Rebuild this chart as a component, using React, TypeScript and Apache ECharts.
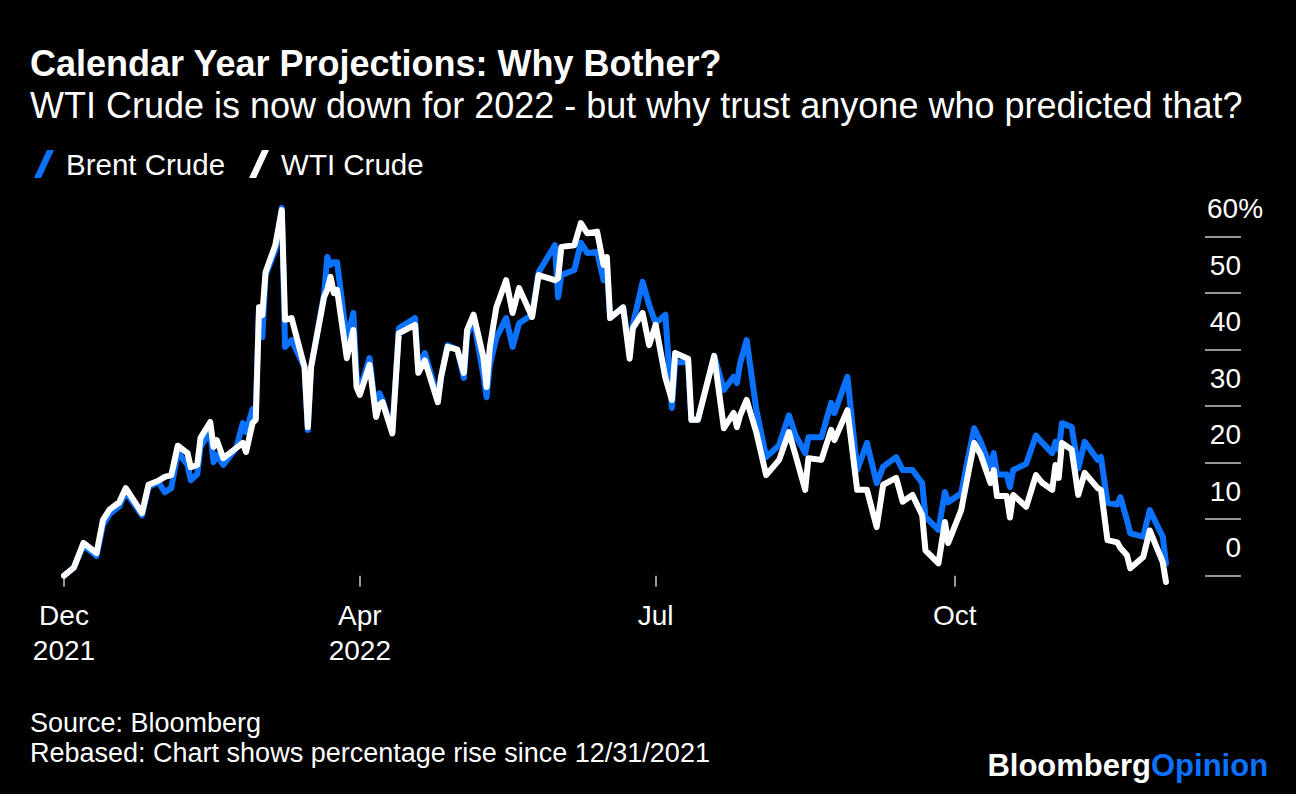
import React, { useEffect, useRef } from 'react';
import * as echarts from 'echarts';

// Days since 12/31/2021 (rebase date)
const days = [
  0, 3, 6, 10, 12, 14, 17, 19, 24, 26, 29, 31, 33, 35, 38, 39, 41, 42, 45, 46,
  47, 49, 53, 55, 56, 58, 59, 60, 61, 62, 65, 67, 68, 70, 74, 75, 76, 80, 81, 82,
  83, 84, 87, 89, 90, 91, 94, 96, 97, 98, 101, 103, 108, 109, 111, 115, 116, 118, 121, 123,
  124, 126, 129, 130, 131, 133, 136, 138, 140, 144, 146, 151, 152, 153, 157, 159, 161, 164, 166, 167,
  168, 172, 174, 175, 178, 180, 182, 185, 187, 188, 192, 193, 195, 200, 203, 206, 207, 208, 210, 213,
  216, 220, 223, 225, 228, 229, 233, 236, 237, 241, 244, 247, 250, 252, 256, 258, 261, 264, 265, 269,
  271, 272, 276, 278, 280, 282, 285, 286, 287, 290, 291, 292, 296, 299, 301, 304, 305, 306, 307, 310,
  312, 314, 318, 319, 321, 324, 325, 327, 328, 332, 334, 338, 339,
];

// Brent Crude, % rise since 12/31/2021
const brent = [
  0, 1.4, 5.4, 3.5, 9.0, 10.9, 12.3, 14.8, 10.7, 15.7, 16.6, 14.8, 15.5, 21.9, 19.6, 16.9, 18.0, 22.8, 25.4, 20.1,
  21.4, 19.6, 22.6, 27.0, 25.4, 29.5, 29.3, 47.5, 42.2, 53.2, 57.6, 65.1, 40.5, 41.7, 36.9, 25.8, 36.9, 49.7, 56.4, 55.0,
  55.5, 55.5, 41.7, 46.5, 35.5, 32.9, 38.5, 28.3, 32.3, 31.1, 25.4, 43.8, 45.6, 36.4, 39.4, 31.5, 35.2, 40.8, 40.0, 35.0,
  42.6, 45.3, 35.5, 31.6, 37.3, 42.1, 45.6, 40.5, 44.7, 46.2, 53.7, 58.5, 49.3, 53.2, 54.1, 58.9, 57.1, 57.3, 52.3, 54.1,
  45.6, 47.5, 39.9, 44.4, 52.0, 47.9, 44.7, 46.2, 29.7, 37.8, 37.8, 27.6, 27.6, 38.9, 32.9, 35.2, 34.1, 37.6, 41.7, 29.3,
  21.0, 23.1, 28.4, 24.9, 21.7, 24.5, 24.5, 30.6, 28.8, 35.2, 18.7, 23.5, 16.4, 19.3, 21.0, 18.7, 18.7, 16.4, 10.4, 8.1,
  14.8, 13.0, 14.6, 20.5, 26.1, 23.7, 19.3, 21.7, 17.9, 17.9, 15.7, 18.7, 19.8, 24.8, 23.5, 21.7, 23.7, 22.3, 27.0, 26.3,
  19.0, 23.7, 20.5, 21.0, 12.9, 12.6, 13.9, 9.8, 7.5, 6.9, 11.6, 6.9, 2.2,
];

// WTI Crude, % rise since 12/31/2021
const wti = [
  0, 1.4, 5.8, 4.0, 9.9, 11.7, 13.0, 15.5, 11.1, 16.1, 16.8, 17.5, 17.8, 23.0, 21.7, 19.2, 19.6, 24.4, 27.2, 22.8,
  24.0, 20.8, 22.6, 23.5, 21.9, 27.0, 27.6, 47.5, 46.1, 53.7, 58.5, 64.7, 45.3, 45.6, 36.9, 26.3, 36.9, 49.3, 50.6, 52.9,
  50.0, 50.6, 38.5, 43.5, 33.4, 32.0, 37.3, 28.1, 30.2, 30.7, 25.2, 42.9, 44.4, 35.9, 38.1, 30.7, 35.2, 40.5, 40.0, 35.9,
  43.5, 46.2, 38.7, 33.4, 40.5, 47.5, 52.3, 46.5, 50.9, 45.8, 53.2, 52.3, 52.7, 58.2, 58.5, 62.4, 60.6, 60.9, 55.0, 56.4,
  45.6, 47.5, 38.4, 43.8, 46.5, 40.8, 44.4, 35.0, 31.1, 39.4, 38.4, 27.6, 27.6, 38.9, 26.1, 28.8, 26.3, 28.4, 31.1, 25.3,
  17.8, 20.5, 25.4, 21.4, 15.2, 20.8, 20.5, 25.8, 24.0, 29.3, 15.2, 15.2, 8.6, 16.1, 17.3, 13.1, 14.3, 10.7, 4.5, 2.2,
  9.5, 5.8, 11.6, 17.6, 23.5, 21.4, 16.4, 18.7, 14.1, 14.1, 10.3, 14.3, 12.2, 17.8, 16.4, 15.2, 19.6, 17.3, 23.5, 22.3,
  14.3, 18.2, 15.5, 15.2, 6.3, 5.9, 4.9, 3.6, 1.3, 3.3, 8.0, 2.4, -1.1,
];

const seriesNames = ['Brent Crude', 'WTI Crude'];
const xTickDays = [0, 91, 182, 274];
const xTickLabels = ['Dec\n2021', 'Apr\n2022', 'Jul', 'Oct'];

const BLUE = '#0a72ff';
const FONT = 'Liberation Sans';
const SLASH = 'path://M0,28 L7,28 L20,0 L13,0 Z';

export default function App() {
  const ref = useRef<HTMLDivElement>(null);

  useEffect(() => {
    document.body.style.margin = '0';
    document.body.style.background = '#000';
    const chart = echarts.init(ref.current as HTMLDivElement, null, { renderer: 'svg' });
    const toPairs = (vals: number[]) => days.map((d, i) => [d, vals[i]]);

    chart.setOption({
      animation: false,
      backgroundColor: '#000000',
      textStyle: { fontFamily: FONT },
      grid: { left: 64, right: 91, top: 236.7, bottom: 218.3, containLabel: false },
      legend: {
        left: 29,
        top: 144,
        itemWidth: 20,
        itemHeight: 28,
        itemGap: 24,
        textStyle: { color: '#ffffff', fontSize: 29.5, fontFamily: FONT, padding: [0, 0, 0, 7] },
        data: [
          { name: seriesNames[0], icon: SLASH },
          { name: seriesNames[1], icon: SLASH },
        ],
      },
      xAxis: {
        type: 'value',
        min: 0,
        max: 351,
        axisLine: { show: false, onZero: false },
        splitLine: { show: false },
        axisTick: {
          show: true,
          customValues: xTickDays,
          length: 11,
          lineStyle: { color: '#c8c8c8', width: 1.5 },
        },
        axisLabel: {
          customValues: xTickDays,
          color: '#ffffff',
          fontSize: 28,
          fontFamily: FONT,
          lineHeight: 35,
          margin: 22,
          formatter: (v: number) => {
            const i = xTickDays.indexOf(v);
            return i >= 0 ? xTickLabels[i] : '';
          },
        },
      },
      yAxis: {
        type: 'value',
        position: 'right',
        min: 0,
        max: 60,
        interval: 10,
        axisLine: { show: false, onZero: false },
        splitLine: { show: false },
        axisTick: {
          show: true,
          inside: false,
          length: 36,
          lineStyle: { color: '#c8c8c8', width: 1.5 },
        },
        axisLabel: {
          color: '#ffffff',
          align: 'left',
          verticalAlign: 'bottom',
          margin: 2,
          padding: [0, 0, 14, 0],
          formatter: (v: number) => (v === 60 ? `{m|${v}%}` : `{n|${v}}`),
          rich: {
            n: { width: 34, align: 'right', fontSize: 28, lineHeight: 28, color: '#ffffff', fontFamily: FONT },
            m: { align: 'left', fontSize: 28, lineHeight: 28, color: '#ffffff', fontFamily: FONT },
          },
        },
      },
      series: [
        {
          name: seriesNames[0],
          type: 'line',
          data: toPairs(brent),
          showSymbol: false,
          clip: false,
          color: BLUE,
          lineStyle: { color: BLUE, width: 6, cap: 'round', join: 'round' },
        },
        {
          name: seriesNames[1],
          type: 'line',
          data: toPairs(wti),
          showSymbol: false,
          clip: false,
          color: '#ffffff',
          lineStyle: { color: '#ffffff', width: 6, cap: 'round', join: 'round' },
        },
      ],
      graphic: [
        {
          type: 'text',
          x: 30,
          y: 63,
          style: {
            text: 'Calendar Year Projections: Why Bother?',
            fill: '#ffffff',
            font: `bold 36px "${FONT}"`,
            verticalAlign: 'middle',
          },
        },
        {
          type: 'text',
          x: 30,
          y: 105,
          style: {
            text: 'WTI Crude is now down for 2022 - but why trust anyone who predicted that?',
            fill: '#ffffff',
            font: `36px "${FONT}"`,
            verticalAlign: 'middle',
          },
        },
        {
          type: 'text',
          x: 30,
          y: 723,
          style: { text: 'Source: Bloomberg', fill: '#ffffff', font: `27px "${FONT}"`, verticalAlign: 'middle' },
        },
        {
          type: 'text',
          x: 30,
          y: 753,
          style: {
            text: 'Rebased: Chart shows percentage rise since 12/31/2021',
            fill: '#ffffff',
            font: `27px "${FONT}"`,
            verticalAlign: 'middle',
          },
        },
        {
          type: 'text',
          x: 1151,
          y: 765,
          style: { text: 'Bloomberg', fill: '#ffffff', font: `bold 31px "${FONT}"`, verticalAlign: 'middle', align: 'right' },
        },
        {
          type: 'text',
          x: 1151,
          y: 765,
          style: { text: 'Opinion', fill: BLUE, font: `bold 31px "${FONT}"`, verticalAlign: 'middle', align: 'left' },
        },
      ],
    });

    return () => chart.dispose();
  }, []);

  return <div ref={ref} style={{ width: 1296, height: 794, background: '#000' }} />;
}
